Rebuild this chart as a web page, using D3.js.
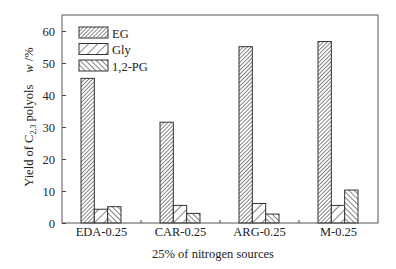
<!DOCTYPE html>
<html>
<head>
<meta charset="utf-8">
<script src="https://cdn.jsdelivr.net/npm/d3@7"></script>
<style>
  body { margin: 0; background: #fff; }
  text { font-family: "Liberation Serif", "Times New Roman", serif; fill: #222; }
</style>
</head>
<body>
<div id="chart"></div>
<script>
const categories = ["EDA-0.25", "CAR-0.25", "ARG-0.25", "M-0.25"];
const seriesNames = ["EG", "Gly", "1,2-PG"];
const egValues = [45.2, 31.5, 55.1, 56.7];
const glyValues = [4.3, 5.5, 6.1, 5.5];
const pgValues = [5.1, 3.0, 2.8, 10.3];
const yTicks = [0, 10, 20, 30, 40, 50, 60];

const width = 396, height = 269;
const margin = { top: 15, right: 18, bottom: 46, left: 62 };
const w = width - margin.left - margin.right;
const h = height - margin.top - margin.bottom;

const svg = d3.select("#chart").append("svg")
  .attr("width", width)
  .attr("height", height);

// hatch patterns
const defs = svg.append("defs");
const hatch = (id, spacing, angle, sw) => {
  const p = defs.append("pattern")
    .attr("id", id)
    .attr("patternUnits", "userSpaceOnUse")
    .attr("width", spacing)
    .attr("height", spacing)
    .attr("patternTransform", `rotate(${angle})`);
  p.append("rect").attr("width", spacing).attr("height", spacing).attr("fill", "#fff");
  p.append("line")
    .attr("x1", 0).attr("y1", 0).attr("x2", 0).attr("y2", spacing)
    .attr("stroke", "#222").attr("stroke-width", sw);
};
hatch("p-eg", 2.8, 45, 1.1);
hatch("p-gly", 6.5, 45, 1.1);
hatch("p-pg", 3.8, -45, 1.1);
const fills = ["url(#p-eg)", "url(#p-gly)", "url(#p-pg)"];

const g = svg.append("g").attr("transform", `translate(${margin.left},${margin.top})`);

const x = d3.scaleBand().domain(categories).range([0, w]);
const xs = d3.scaleBand().domain(seriesNames).range([0, 40]);
const y = d3.scaleLinear().domain([0, 65]).range([h, 0]);

const rows = categories.map((c, i) => ({
  cat: c,
  vals: [egValues[i], glyValues[i], pgValues[i]]
}));

const groups = g.selectAll(".grp")
  .data(rows)
  .join("g")
  .attr("transform", d => `translate(${x(d.cat) + x.bandwidth() / 2 - 20.5},0)`);

groups.selectAll("rect")
  .data(d => d.vals.map((v, j) => ({ v, s: seriesNames[j], j })))
  .join("rect")
  .attr("x", d => xs(d.s))
  .attr("y", d => y(d.v))
  .attr("width", xs.bandwidth())
  .attr("height", d => y(0) - y(d.v))
  .attr("fill", d => fills[d.j])
  .attr("stroke", "#333")
  .attr("stroke-width", 1);

// frame
g.append("rect")
  .attr("width", w).attr("height", h)
  .attr("fill", "none")
  .attr("stroke", "#555")
  .attr("stroke-width", 1);

// y axis
const yAxis = g.append("g")
  .call(d3.axisLeft(y).tickValues(yTicks).tickSize(-4).tickPadding(7));
yAxis.select(".domain").remove();
yAxis.selectAll("line").attr("stroke", "#444");
yAxis.selectAll("text").style("font-size", "12.5px").attr("fill", "#222");

// x axis ticks at group borders
const borders = categories.slice(1).map(c => x(c));
g.selectAll(".xt")
  .data(borders)
  .join("line")
  .attr("x1", d => d).attr("x2", d => d)
  .attr("y1", h).attr("y2", h - 3)
  .attr("stroke", "#444");

const xAxis = g.append("g")
  .attr("transform", `translate(0,${h})`)
  .call(d3.axisBottom(x).tickSize(0).tickPadding(4));
xAxis.select(".domain").remove();
xAxis.selectAll("text").style("font-size", "12.5px").attr("fill", "#222");

// x label
svg.append("text")
  .attr("x", 213)
  .attr("y", 258)
  .attr("text-anchor", "middle")
  .style("font-size", "12.5px")
  .text("25% of nitrogen sources");

// y label
const yl = svg.append("text")
  .attr("transform", `translate(33,${margin.top + h / 2 - 2}) rotate(-90)`)
  .attr("text-anchor", "middle")
  .style("font-size", "12.5px");
yl.append("tspan").text("Yield of C");
yl.append("tspan").attr("dy", 3).style("font-size", "8px").text("2,3");
yl.append("tspan").attr("dy", -3).text(" polyols");
yl.append("tspan").attr("dx", 12).style("font-style", "italic").text("w");
yl.append("tspan").text(" /%");

// legend
const legend = g.append("g").attr("transform", "translate(17,12)");
seriesNames.forEach((s, i) => {
  const row = legend.append("g").attr("transform", `translate(0,${i * 16.5})`);
  row.append("rect")
    .attr("width", 29).attr("height", 11)
    .attr("fill", fills[i])
    .attr("stroke", "#333");
  row.append("text")
    .attr("x", 33).attr("y", 10.5)
    .style("font-size", "12.5px")
    .text(s);
});
</script>
</body>
</html>
